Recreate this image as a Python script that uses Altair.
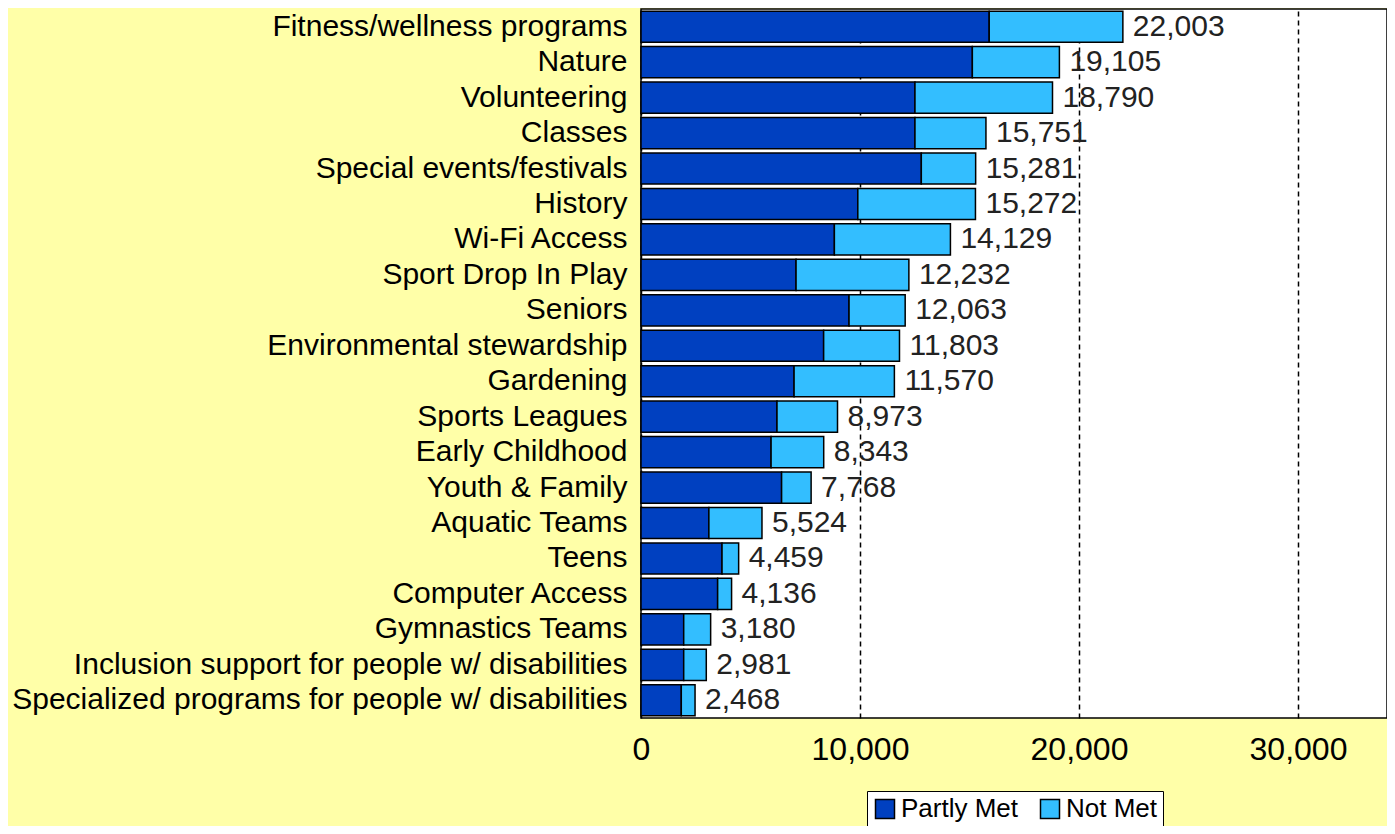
import altair as alt
import pandas as pd

categories = [
    "Fitness/wellness programs", "Nature", "Volunteering", "Classes",
    "Special events/festivals", "History", "Wi-Fi Access", "Sport Drop In Play",
    "Seniors", "Environmental stewardship", "Gardening", "Sports Leagues",
    "Early Childhood", "Youth & Family", "Aquatic Teams", "Teens",
    "Computer Access", "Gymnastics Teams",
    "Inclusion support for people w/ disabilities",
    "Specialized programs for people w/ disabilities",
]
totals = [22003, 19105, 18790, 15751, 15281, 15272, 14129, 12232, 12063, 11803,
          11570, 8973, 8343, 7768, 5524, 4459, 4136, 3180, 2981, 2468]
partly_met = [15900, 15130, 12510, 12510, 12800, 9900, 8830, 7080, 9500, 8340,
              6990, 6210, 5940, 6420, 3100, 3700, 3500, 1950, 1950, 1840]
not_met = [t - p for t, p in zip(totals, partly_met)]
series = ["Partly Met", "Not Met"]
colors = ["#0040C0", "#33BEFF"]
x_ticks = [0, 10000, 20000, 30000]

rows = []
for c, p, n in zip(categories, partly_met, not_met):
    rows.append({"category": c, "series": "Partly Met", "value": p, "ord": 0})
    rows.append({"category": c, "series": "Not Met", "value": n, "ord": 1})
df = pd.DataFrame(rows)
tot_df = pd.DataFrame({"category": categories, "total": totals})

FONT = "Liberation Sans"

x_scale = alt.Scale(domain=[0, 34064], nice=False, zero=True)
y_enc = alt.Y("category:N", sort=categories,
              scale=alt.Scale(paddingInner=0.12, paddingOuter=0.06),
              axis=alt.Axis(title=None, labelFont=FONT, labelFontSize=30,
                            labelColor="black", ticks=False, domain=False,
                            labelPadding=14, labelLimit=700))

bars = alt.Chart(df).mark_bar(stroke="black", strokeWidth=1.5).encode(
    x=alt.X("value:Q", stack="zero", scale=x_scale,
            axis=alt.Axis(title=None, values=x_ticks, format=",d",
                          labelFont=FONT, labelFontSize=32, labelColor="black",
                          ticks=False, domain=False, labelPadding=16,
                          grid=True, gridColor="black", gridDash=[5, 4],
                          gridWidth=1.5, labelFlush=False)),
    y=y_enc,
    color=alt.Color("series:N", scale=alt.Scale(domain=series, range=colors),
                    legend=alt.Legend(title=None, orient="none", legendX=226,
                                      legendY=782, direction="horizontal",
                                      columns=2, fillColor="white",
                                      strokeColor="black", padding=5,
                                      symbolType="square", symbolSize=361,
                                      symbolStrokeColor="black",
                                      symbolStrokeWidth=1.5,
                                      symbolOpacity=1,
                                      labelFont=FONT, labelFontSize=26,
                                      labelColor="black", labelOffset=3,
                                      columnPadding=18, labelLimit=300)),
    order=alt.Order("ord:Q"),
)

labels = alt.Chart(tot_df).mark_text(align="left", baseline="middle", dx=10,
                                     font=FONT, fontSize=30, color="#222222").encode(
    x=alt.X("total:Q", scale=x_scale),
    y=alt.Y("category:N", sort=categories),
    text=alt.Text("total:Q", format=",d"),
)

chart = alt.layer(bars, labels).properties(
    width=746, height=709,
    autosize=alt.AutoSizeParams(type="none"),
    padding={"left": 633, "top": 1, "right": 0, "bottom": 108},
    background="#FFFFA8",
).configure_view(stroke="black", strokeWidth=1.5, fill="white")

chart.save("out.html", embed_options={"renderer": "svg", "actions": False})
